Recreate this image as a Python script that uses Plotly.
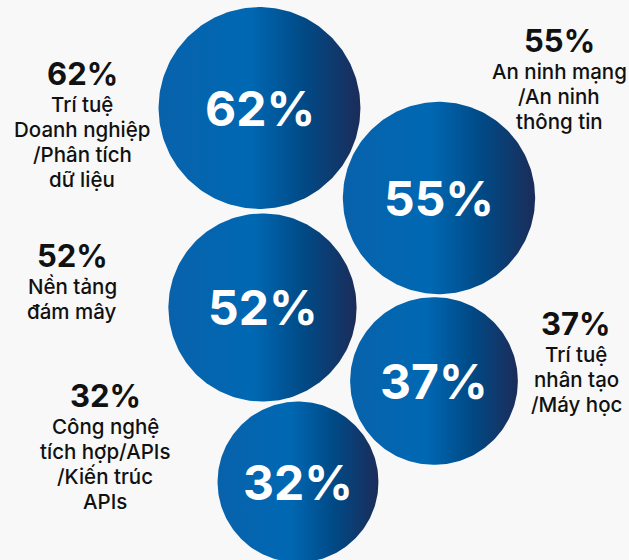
import numpy as np
import plotly.graph_objects as go

# ---- data ----
values = [62, 55, 52, 37, 32]
value_labels = ["62%", "55%", "52%", "37%", "32%"]
categories = [
    ["Trí tuệ", "Doanh nghiệp", "/Phân tích", "dữ liệu"],
    ["An ninh mạng", "/An ninh", "thông tin"],
    ["Nền tảng", "đám mây"],
    ["Trí tuệ", "nhân tạo", "/Máy học"],
    ["Công nghệ", "tích hợp/APIs", "/Kiến trúc", "APIs"],
]

# ---- layout (pixel space) ----
W, H = 629, 560
circle_cx = [259.5, 439, 262.5, 434, 298]
circle_cy = [108, 198, 307.5, 381, 482]
label_cx = [82, 559, 72, 576, 105]
label_pct_cy = [73, 40, 255, 323, 395]
FIRST_LINE_OFFSET = 31.5
LINE_STEP = 25

BG = "#f8f8f8"
FONT = "Inter"
GRADIENT = [[0, "#0862ab"], [0.45, "#0068b3"], [0.72, "#004a86"], [1, "#1b2c59"]]


def radius(v):
    # bubble size scale: pixels
    return 58.6 + 0.683 * v


fig = go.Figure()
theta = np.linspace(0, 2 * np.pi, 240)
for v, cx, cy in zip(values, circle_cx, circle_cy):
    r = radius(v)
    fig.add_trace(go.Scatter(
        x=cx + r * np.cos(theta),
        y=cy + r * np.sin(theta),
        mode="lines",
        line=dict(width=0),
        fill="toself",
        fillgradient=dict(type="horizontal", colorscale=GRADIENT),
        hoverinfo="skip",
        showlegend=False,
    ))

annotations = []
for lab, cx, cy in zip(value_labels, circle_cx, circle_cy):
    annotations.append(dict(
        x=cx, y=cy, text=lab, showarrow=False, xanchor="center", yanchor="middle",
        font=dict(family=FONT, size=48, color="white", weight=700),
    ))
for lab, lines, lx, ly in zip(value_labels, categories, label_cx, label_pct_cy):
    annotations.append(dict(
        x=lx, y=ly, text=lab, showarrow=False, xanchor="center", yanchor="middle",
        font=dict(family=FONT, size=31, color="#111111", weight=700),
    ))
    for i, line in enumerate(lines):
        annotations.append(dict(
            x=lx, y=ly + FIRST_LINE_OFFSET + LINE_STEP * i, text=line,
            showarrow=False, xanchor="center", yanchor="middle",
            font=dict(family=FONT, size=20.5, color="#111111", weight=500),
        ))

fig.update_layout(
    width=W, height=H,
    margin=dict(l=0, r=0, t=0, b=0),
    paper_bgcolor=BG, plot_bgcolor=BG,
    xaxis=dict(range=[0, W], visible=False, fixedrange=True),
    yaxis=dict(range=[H, 0], visible=False, fixedrange=True),
    annotations=annotations,
    showlegend=False,
)

fig.write_html("out.html")
